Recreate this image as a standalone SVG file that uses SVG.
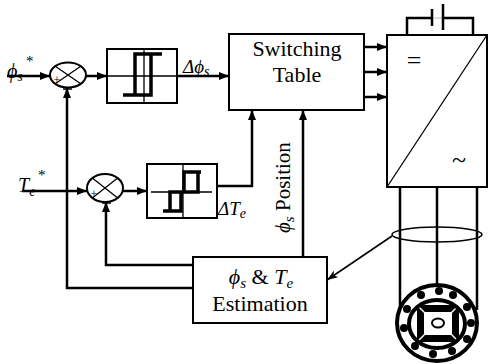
<svg xmlns="http://www.w3.org/2000/svg" width="489" height="364" viewBox="0 0 489 364" font-family="'Liberation Serif', 'Times New Roman', 'DejaVu Serif', serif">
<defs>
<style>
.box{fill:#fff;stroke:#000;stroke-width:2}
.ln{fill:none;stroke:#000;stroke-width:2.5}
.th{fill:none;stroke:#000;stroke-width:1.3}
.hy{fill:none;stroke:#000;stroke-width:3.5}
text{font-family:'Liberation Serif','Times New Roman','DejaVu Serif',serif;fill:#000}
.i{font-style:italic}
</style>
<marker id="ah" markerWidth="10" markerHeight="8" refX="10" refY="4" orient="auto" markerUnits="userSpaceOnUse"><path d="M0,0 L10,4 L0,8 z" fill="#000"/></marker>
<marker id="ah2" markerWidth="11" markerHeight="8" refX="11" refY="4" orient="auto" markerUnits="userSpaceOnUse"><path d="M0,0 L11,4 L0,8 L3,4 z" fill="#000"/></marker>
</defs>
<rect width="489" height="364" fill="#fff"/>

<g id="connectors">
<path class="ln" d="M7,76 H50" marker-end="url(#ah)"/>
<path class="ln" d="M86,76 H107" marker-end="url(#ah)"/>
<path class="ln" d="M177,76 H229" marker-end="url(#ah)"/>
<path class="ln" d="M22,191 H87" marker-end="url(#ah)"/>
<path class="ln" d="M123,191 H147" marker-end="url(#ah)"/>
<path class="ln" d="M217,186 H252 V110" marker-end="url(#ah)"/>
<path class="ln" d="M303,257 V110" marker-end="url(#ah)"/>
<path class="ln" d="M364,47 H387" marker-end="url(#ah)"/>
<path class="ln" d="M364,72 H387" marker-end="url(#ah)"/>
<path class="ln" d="M364,97 H387" marker-end="url(#ah)"/>
<path class="ln" d="M193,288 H67 V88" marker-end="url(#ah)"/>
<path class="ln" d="M193,265 H106 V202" marker-end="url(#ah)"/>
<path class="th" stroke-width="2" d="M63,89 H72 M102,203 H111"/>
<path fill="none" stroke="#000" stroke-width="1.6" d="M392,236 L327,280" marker-end="url(#ah2)"/>
<path class="ln" d="M400,187 V310 M437,187 V290 M477,187 V310" stroke-width="2"/>
<ellipse cx="437" cy="234.5" rx="45" ry="7.5" fill="none" stroke="#000" stroke-width="1.6"/>
</g>

<g id="sum1">
<ellipse cx="68" cy="75" rx="18" ry="12.5" fill="#fff" stroke="#000" stroke-width="2"/>
<path class="th" stroke-width="2" d="M55.3,66.2 L80.7,83.8 M80.7,66.2 L55.3,83.8"/>
<text x="57" y="84" font-size="12" text-anchor="middle">+</text>
</g>

<g id="sum2">
<ellipse cx="105" cy="188" rx="18" ry="14" fill="#fff" stroke="#000" stroke-width="2"/>
<path class="th" stroke-width="2" d="M92.3,178.1 L117.7,197.9 M117.7,178.1 L92.3,197.9"/>
<text x="94" y="198" font-size="12" text-anchor="middle">+</text>
</g>

<g id="hyst1">
<rect class="box" x="107" y="49" width="70" height="54"/>
<path class="th" d="M107,76 H177 M144,49 V103"/>
<path class="hy" d="M123,95 H151 V54 M162,54 H135 V95"/>
</g>

<g id="hyst2">
<rect class="box" x="147" y="164" width="70" height="54"/>
<path class="th" d="M151,192 H212 M183,164 V218"/>
<path class="hy" d="M163,211 H181 V192 H170 V211"/>
<path class="hy" d="M201,172 H184 V192 H198 V172"/>
</g>

<g id="switching-table">
<rect class="box" x="229" y="34" width="135" height="76"/>
<text x="297" y="56" font-size="22" text-anchor="middle">Switching</text>
<text x="297" y="82" font-size="22" text-anchor="middle">Table</text>
</g>

<g id="inverter">
<path class="ln" stroke-width="2" d="M407,35 V18 H432 M443,18 H473 V35"/>
<path stroke="#bbb" stroke-width="1" d="M432,18 H443"/>
<path class="ln" d="M432,9 V26 M443,4 V30"/>
<rect class="box" x="387" y="35" width="100" height="152"/>
<path class="th" stroke-width="2" d="M387,187 L487,35"/>
<text x="414" y="69" font-size="26" text-anchor="middle">=</text>
<text x="459" y="168" font-size="26" text-anchor="middle">~</text>
</g>

<g id="estimation">
<rect class="box" x="193" y="257" width="134" height="66"/>
<text x="261" y="284" font-size="22" text-anchor="middle"><tspan class="i">ϕ</tspan><tspan class="i" font-size="15" dy="4">s</tspan><tspan dy="-4"> &amp; </tspan><tspan class="i">T</tspan><tspan class="i" font-size="15" dy="4">e</tspan></text>
<text x="260" y="311" font-size="22" text-anchor="middle">Estimation</text>
</g>

<g id="motor" transform="translate(437,323)">
<ellipse cx="0" cy="0" rx="40" ry="38" fill="#fff" stroke="#000" stroke-width="4"/>
<ellipse cx="0" cy="1" rx="28" ry="24" fill="#fff" stroke="#000" stroke-width="4"/>
<g fill="#000">
<circle cx="-16" cy="-28" r="4"/><circle cx="2" cy="-32" r="4"/><circle cx="16" cy="-28" r="4"/>
<circle cx="30" cy="-16" r="4"/><circle cx="34" cy="0" r="4"/><circle cx="30" cy="16" r="4"/>
<circle cx="15" cy="28" r="4"/><circle cx="-4" cy="31" r="4"/><circle cx="-22" cy="23" r="4"/>
<circle cx="-33" cy="5" r="4"/><circle cx="-30" cy="-14" r="4"/>
</g>
<path fill="#000" d="M-19,-18 H21 L14,-11 H-12 Z M-19,19 H21 L14,12 H-12 Z M-20,-17 V18 L-13,11 V-10 Z M22,-17 V18 L15,11 V-10 Z"/>
<ellipse cx="1" cy="0" rx="6" ry="4.5" fill="#fff" stroke="#000" stroke-width="2"/>
</g>

<g id="labels">
<text x="7" y="78" font-size="20"><tspan class="i">ϕ</tspan><tspan class="i" font-size="14" dy="3">s</tspan></text>
<text x="26" y="66" font-size="15">*</text>
<text x="18" y="192" font-size="20"><tspan class="i">T</tspan><tspan class="i" font-size="14" dy="4">e</tspan></text>
<text x="38" y="180" font-size="15">*</text>
<text x="183" y="73" font-size="19"><tspan class="i">Δϕ</tspan><tspan class="i" font-size="14" dy="3">s</tspan></text>
<text x="218" y="215" font-size="19"><tspan class="i">ΔT</tspan><tspan class="i" font-size="14" dy="3">e</tspan></text>
<text transform="translate(290,233) rotate(-90)" font-size="21"><tspan class="i">ϕ</tspan><tspan class="i" font-size="15" dy="4">s</tspan><tspan dy="-4"> Position</tspan></text>
</g>
</svg>
